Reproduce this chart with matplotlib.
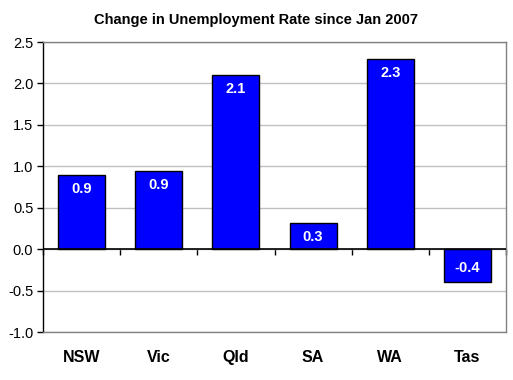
import matplotlib
matplotlib.use("Agg")
import matplotlib.pyplot as plt
import numpy as np

categories = ["NSW", "Vic", "Qld", "SA", "WA", "Tas"]
values = [0.90, 0.94, 2.10, 0.32, 2.29, -0.40]
labels = ["0.9", "0.9", "2.1", "0.3", "2.3", "-0.4"]
yticks = [-1.0, -0.5, 0.0, 0.5, 1.0, 1.5, 2.0, 2.5]

plt.rcParams['font.family'] = ['Liberation Sans', 'DejaVu Sans']

fig = plt.figure(figsize=(5.13, 3.80), dpi=100)
ax = fig.add_axes([43/513, 1-332/380, 463/513, 290/380])

x = np.arange(len(categories))
bars = ax.bar(x, values, width=0.61, color='#0000FF', edgecolor='black', linewidth=1.0, zorder=3)

ymin, ymax = -1.0, 2.5
ax.set_ylim(ymin, ymax)
ax.set_xlim(-0.5, len(categories) - 0.5)
ax.set_yticks(yticks)
ax.set_yticklabels([f"{v:.1f}" for v in yticks], fontsize=10.5)
ax.yaxis.grid(True, color='#c0c0c0', linewidth=1.0, zorder=0)
ax.tick_params(axis='y', direction='out', length=4, width=1, color='black', pad=3)

ax.set_xticks(x)
ax.set_xticklabels(categories, fontsize=11.5, fontweight='bold')
ax.tick_params(axis='x', length=0, pad=13)

for s in ['top', 'right', 'bottom']:
    ax.spines[s].set_color('#808080')
    ax.spines[s].set_linewidth(1.0)
ax.spines['left'].set_color('black')
ax.spines['left'].set_linewidth(1.0)

# zero axis line
ax.axhline(0, color='black', linewidth=1.2, zorder=4)
sec = ax.secondary_xaxis((0 - ymin) / (ymax - ymin))
sec.set_xticks(np.arange(len(categories) + 1) - 0.5)
sec.set_xticklabels([])
sec.tick_params(direction='out', length=4, width=1, color='black')
sec.spines['bottom'].set_visible(False)

for xi, v, lab in zip(x, values, labels):
    off = -14 if v >= 0 else 14
    ax.annotate(lab, (xi, v), xytext=(0, off), textcoords='offset pixels',
                ha='center', va='center', color='white', fontsize=10.5, fontweight='bold', zorder=5)

fig.suptitle("Change in Unemployment Rate since Jan 2007", x=0.5, y=1-20/380,
             fontsize=10.5, fontweight='bold', va='center')

fig.savefig("out.png", dpi=100)
